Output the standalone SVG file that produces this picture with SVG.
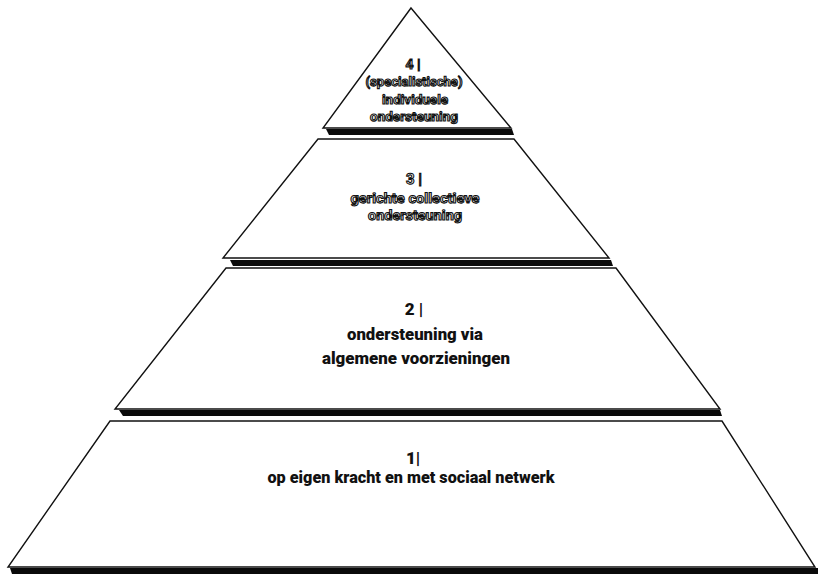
<svg xmlns="http://www.w3.org/2000/svg" width="818" height="574" viewBox="0 0 818 574">
<style>
.tier{fill:#fff;stroke:#111;stroke-width:1.4;stroke-linejoin:miter}
.bar{fill:#0a0a0a}
.solid{font-family:Roboto,"Liberation Sans",sans-serif;font-weight:900;fill:#111;text-anchor:middle}
.hollow{font-family:Roboto,"Liberation Sans",sans-serif;font-weight:700;fill:#fff;stroke:#111;stroke-width:1.1;text-anchor:middle;text-rendering:geometricPrecision}
</style>
<rect width="818" height="574" fill="#fff"/>
<g id="tier4">
<polygon class="tier" points="411,8 511,128 323,128"/>
<polygon class="bar" points="326,129 512,129 514,135 329,135"/>
<text class="hollow" font-size="14" x="413" y="69">4 |</text>
<text class="hollow" font-size="13" x="414" y="86" textLength="97" lengthAdjust="spacingAndGlyphs">(specialistische)</text>
<text class="hollow" font-size="13" x="415" y="103.5" textLength="66" lengthAdjust="spacingAndGlyphs">individuele</text>
<text class="hollow" font-size="13" x="414" y="120.5" textLength="88" lengthAdjust="spacingAndGlyphs">ondersteuning</text>
</g>
<g id="tier3">
<polygon class="tier" points="318,139 514,139 609,258 223,258"/>
<polygon class="bar" points="230,260 611,260 613,266 233,266"/>
<text class="hollow" font-size="15" x="414" y="184">3 |</text>
<text class="hollow" font-size="14" x="415" y="203" textLength="129" lengthAdjust="spacingAndGlyphs">gerichte collectieve</text>
<text class="hollow" font-size="14" x="415" y="220" textLength="94" lengthAdjust="spacingAndGlyphs">ondersteuning</text>
</g>
<g id="tier2">
<polygon class="tier" points="226,268 616,268 720,409 115,409"/>
<polygon class="bar" points="119,410 720,410 722,416 123,416"/>
<text class="solid" font-size="17" x="414" y="315">2 |</text>
<text class="solid" font-size="17" x="415" y="340" textLength="136" lengthAdjust="spacingAndGlyphs">ondersteuning via</text>
<text class="solid" font-size="17" x="416" y="364" textLength="188" lengthAdjust="spacingAndGlyphs">algemene voorzieningen</text>
</g>
<g id="tier1">
<polygon class="tier" points="110,421 722,421 815,567 8,567"/>
<polygon class="bar" points="10,568 818,568 818,574 12,574"/>
<text class="solid" font-size="17" x="413" y="464">1|</text>
<text class="solid" font-size="17" x="411" y="483" textLength="287" lengthAdjust="spacingAndGlyphs">op eigen kracht en met sociaal netwerk</text>
</g>
</svg>
